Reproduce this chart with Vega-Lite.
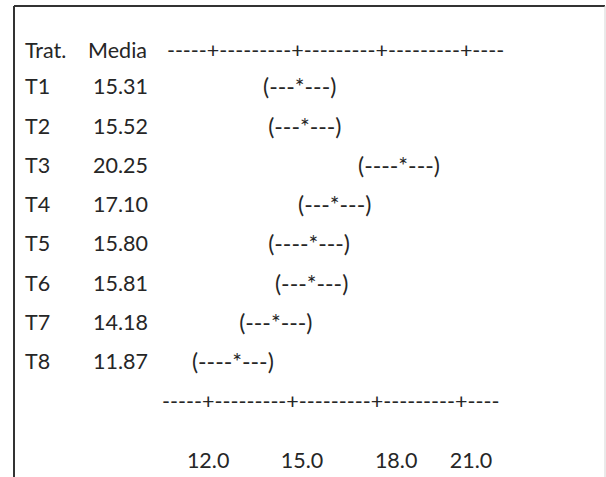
{
  "$schema": "https://vega.github.io/schema/vega-lite/v6.json",
  "width": 591,
  "height": 474,
  "autosize": {"type": "none"},
  "padding": {"left": 14, "top": 6, "right": 1, "bottom": 0},
  "background": "white",
  "config": {"view": {"stroke": null}},
  "datasets": {
    "tabla": [
      {"trat": "T1", "media": 15.31, "ic": "(---*---)", "li": 13.97, "fila": 1},
      {"trat": "T2", "media": 15.52, "ic": "(---*---)", "li": 14.15, "fila": 2},
      {"trat": "T3", "media": 20.25, "ic": "(----*---)", "li": 17.31, "fila": 3},
      {"trat": "T4", "media": 17.10, "ic": "(---*---)", "li": 15.2, "fila": 4},
      {"trat": "T5", "media": 15.80, "ic": "(----*---)", "li": 14.15, "fila": 5},
      {"trat": "T6", "media": 15.81, "ic": "(---*---)", "li": 14.39, "fila": 6},
      {"trat": "T7", "media": 14.18, "ic": "(---*---)", "li": 13.13, "fila": 7},
      {"trat": "T8", "media": 11.87, "ic": "(----*---)", "li": 11.47, "fila": 8}
    ],
    "encabezado": [
      {"trat": "Trat.", "media": "Media", "escala": "-----+---------+---------+---------+----"}
    ],
    "etiquetas": [
      {"etiqueta": "12.0", "pos": 12.04},
      {"etiqueta": "15.0", "pos": 15.34},
      {"etiqueta": "18.0", "pos": 18.65},
      {"etiqueta": "21.0", "pos": 21.28}
    ]
  },
  "layer": [
    {
      "data": {"name": "encabezado"},
      "mark": {"type": "rule", "color": "#333333", "strokeWidth": 2},
      "encoding": {
        "x": {"datum": 5.214, "type": "quantitative", "scale": {"domain": [5.214, 25.994], "nice": false, "zero": false}, "axis": null}
      }
    },
    {
      "data": {"name": "encabezado"},
      "mark": {"type": "rule", "color": "#333333", "strokeWidth": 2},
      "encoding": {
        "y": {"datum": -1.094, "type": "quantitative", "scale": {"domain": [-1.094, 10.967], "reverse": true, "nice": false, "zero": false}, "axis": null}
      }
    },
    {
      "data": {"name": "encabezado"},
      "mark": {"type": "rule", "color": "#d4d4d4", "strokeWidth": 1},
      "encoding": {
        "x": {"datum": 25.994, "type": "quantitative", "scale": {"domain": [5.214, 25.994], "nice": false, "zero": false}, "axis": null}
      }
    },
    {
      "data": {"name": "encabezado"},
      "mark": {"type": "text", "font": "Lato", "fontSize": 21.5, "align": "left", "baseline": "middle", "color": "#262626"},
      "encoding": {
        "x": {"datum": 5.6, "type": "quantitative", "scale": {"domain": [5.214, 25.994], "nice": false, "zero": false}, "axis": null},
        "y": {"datum": 0.07, "type": "quantitative", "scale": {"domain": [-1.094, 10.967], "reverse": true, "nice": false, "zero": false}, "axis": null},
        "text": {"field": "trat"}
      }
    },
    {
      "data": {"name": "encabezado"},
      "mark": {"type": "text", "font": "Lato", "fontSize": 21.5, "align": "left", "baseline": "middle", "color": "#262626"},
      "encoding": {
        "x": {"datum": 7.82, "type": "quantitative", "scale": {"domain": [5.214, 25.994], "nice": false, "zero": false}, "axis": null},
        "y": {"datum": 0.07, "type": "quantitative", "scale": {"domain": [-1.094, 10.967], "reverse": true, "nice": false, "zero": false}, "axis": null},
        "text": {"field": "media"}
      }
    },
    {
      "data": {"name": "encabezado"},
      "mark": {"type": "text", "font": "Lato", "fontSize": 21.5, "align": "left", "baseline": "middle", "color": "#262626"},
      "encoding": {
        "x": {"datum": 10.59, "type": "quantitative", "scale": {"domain": [5.214, 25.994], "nice": false, "zero": false}, "axis": null},
        "y": {"datum": 0.07, "type": "quantitative", "scale": {"domain": [-1.094, 10.967], "reverse": true, "nice": false, "zero": false}, "axis": null},
        "text": {"field": "escala"}
      }
    },
    {
      "data": {"name": "tabla"},
      "mark": {"type": "text", "font": "Lato", "fontSize": 21.5, "align": "left", "baseline": "middle", "color": "#262626"},
      "encoding": {
        "x": {"datum": 5.6, "type": "quantitative", "scale": {"domain": [5.214, 25.994], "nice": false, "zero": false}, "axis": null},
        "y": {"field": "fila", "type": "quantitative", "scale": {"domain": [-1.094, 10.967], "reverse": true, "nice": false, "zero": false}, "axis": null},
        "text": {"field": "trat"}
      }
    },
    {
      "data": {"name": "tabla"},
      "mark": {"type": "text", "font": "Lato", "fontSize": 21.5, "align": "left", "baseline": "middle", "color": "#262626"},
      "encoding": {
        "x": {"datum": 7.99, "type": "quantitative", "scale": {"domain": [5.214, 25.994], "nice": false, "zero": false}, "axis": null},
        "y": {"field": "fila", "type": "quantitative", "scale": {"domain": [-1.094, 10.967], "reverse": true, "nice": false, "zero": false}, "axis": null},
        "text": {"field": "media", "type": "quantitative", "format": ".2f"}
      }
    },
    {
      "data": {"name": "tabla"},
      "mark": {"type": "text", "font": "Lato", "fontSize": 23, "align": "left", "baseline": "middle", "color": "#262626"},
      "encoding": {
        "x": {"field": "li", "type": "quantitative", "scale": {"domain": [5.214, 25.994], "nice": false, "zero": false}, "axis": null},
        "y": {"field": "fila", "type": "quantitative", "scale": {"domain": [-1.094, 10.967], "reverse": true, "nice": false, "zero": false}, "axis": null},
        "text": {"field": "ic"}
      }
    },
    {
      "data": {"name": "encabezado"},
      "mark": {"type": "text", "font": "Lato", "fontSize": 21.5, "align": "left", "baseline": "middle", "color": "#262626"},
      "encoding": {
        "x": {"datum": 10.42, "type": "quantitative", "scale": {"domain": [5.214, 25.994], "nice": false, "zero": false}, "axis": null},
        "y": {"datum": 9, "type": "quantitative", "scale": {"domain": [-1.094, 10.967], "reverse": true, "nice": false, "zero": false}, "axis": null},
        "text": {"field": "escala"}
      }
    },
    {
      "data": {"name": "etiquetas"},
      "mark": {"type": "text", "font": "Lato", "fontSize": 21.5, "align": "center", "baseline": "middle", "color": "#262626"},
      "encoding": {
        "x": {"field": "pos", "type": "quantitative", "scale": {"domain": [5.214, 25.994], "nice": false, "zero": false}, "axis": null},
        "y": {"datum": 10.5, "type": "quantitative", "scale": {"domain": [-1.094, 10.967], "reverse": true, "nice": false, "zero": false}, "axis": null},
        "text": {"field": "etiqueta"}
      }
    }
  ]
}
